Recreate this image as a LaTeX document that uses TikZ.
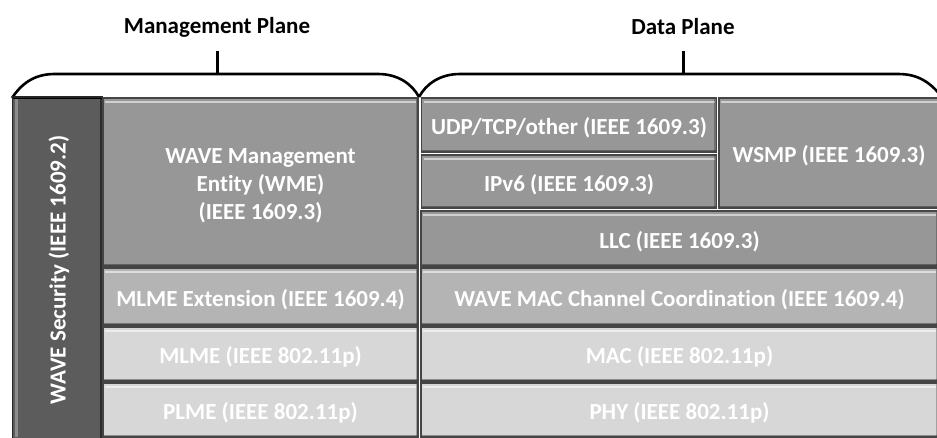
\documentclass[tikz,border=0pt]{standalone}
\usepackage{fontspec}
\usepackage{graphicx}
\setmainfont{Carlito}[RawFeature=-liga]
\definecolor{secfill}{HTML}{5C5C5C}
\definecolor{darkfill}{HTML}{979797}
\definecolor{midfill}{HTML}{B4B4B4}
\definecolor{lightfill}{HTML}{D7D7D7}
\definecolor{edgecol}{HTML}{454545}
\begin{document}
\begin{tikzpicture}[x=1pt,y=-1pt,
  boxfont/.style={font=\bfseries\fontsize{23}{28}\selectfont, text=white},
  layer/.style={boxfont, draw=edgecol, line width=1.3pt, inner sep=0pt, align=center,
    text height=21pt, text depth=2pt,
    path picture={
      \draw[white, opacity=0.55, line width=2.5pt]
        ([yshift=-4pt,xshift=2pt]path picture bounding box.north west) --
        ([yshift=-4pt,xshift=-2pt]path picture bounding box.north east);
      \draw[black, opacity=0.35, line width=2pt]
        ([yshift=1.5pt]path picture bounding box.south west) --
        ([yshift=1.5pt]path picture bounding box.south east);
      \draw[black, opacity=0.25, line width=2pt]
        ([xshift=-1.5pt]path picture bounding box.south east) --
        ([xshift=-1.5pt]path picture bounding box.north east);
    }},
  seclayer/.style={draw=black!85, line width=1.3pt, inner sep=0pt, fill=secfill,
    path picture={
      \draw[white, opacity=0.3, line width=2.5pt]
        ([xshift=4pt,yshift=2pt]path picture bounding box.south west) --
        ([xshift=4pt,yshift=-2pt]path picture bounding box.north west);
      \draw[black, opacity=0.5, line width=2.5pt]
        ([xshift=-1.5pt]path picture bounding box.south east) --
        ([xshift=-1.5pt]path picture bounding box.north east);
      \draw[black, line width=2.5pt]
        ([yshift=-1pt]path picture bounding box.north west) --
        ([yshift=-1pt]path picture bounding box.north east);
    }},
  title/.style={font=\bfseries\fontsize{23}{27}\selectfont, text=black},
  brace/.style={line width=2.6pt, black},
  tick/.style={line width=3pt, black}
]
\useasboundingbox (0,0) rectangle (937,437);
% titles
\node[title] (mp) at (217,27) {Management Plane};
\node[title] (dp) at (683,27) {Data Plane};
% braces
\draw[brace] (12,98) .. controls (24,80) and (38,74) .. (55,74) -- (378,74)
  .. controls (398,74) and (412,84) .. (419,97);
\draw[brace] (419,97) .. controls (426,84) and (440,74) .. (460,74) -- (898,74)
  .. controls (918,74) and (930,82) .. (942,97);
\coordinate (mpt) at (217,51);
\coordinate (mpb) at (217,75);
\coordinate (dpt) at (683,51);
\coordinate (dpb) at (683,75);
\draw[tick] (mpt) -- (mpb);
\draw[tick] (dpt) -- (dpb);
% security column
\node[seclayer, minimum width=90pt, minimum height=342pt] (sec) at (57.5,268) {};
\node[boxfont, inner sep=0pt] (sectxt) at (59,270)
  {\rotatebox{90}{WAVE Security (IEEE 1609.2)}};
% management plane
\node[layer, fill=darkfill, minimum width=315pt, minimum height=168pt] (wme) at (260.5,182) {};
\node[boxfont, align=center] (wmetxt) at ([yshift=-4pt]wme.center)
  {WAVE Management\\Entity (WME)\\(IEEE 1609.3)};
\node[layer, fill=midfill, minimum width=315pt, minimum height=57pt] (mlmeext) at (260.5,296.5)
  {MLME Extension (IEEE 1609.4)};
\node[layer, fill=lightfill, minimum width=315pt, minimum height=54pt] (mlme) at (260.5,354)
  {MLME (IEEE 802.11p)};
\node[layer, fill=lightfill, minimum width=315pt, minimum height=54pt] (plme) at (260.5,410)
  {PLME (IEEE 802.11p)};
% data plane
\node[layer, fill=darkfill, minimum width=295pt, minimum height=54pt] (udp) at (569,125)
  {UDP/TCP/other (IEEE 1609.3)};
\node[layer, fill=darkfill, minimum width=295pt, minimum height=53pt] (ipv6) at (569,181.5)
  {IPv6 (IEEE 1609.3)};
\node[layer, fill=darkfill, minimum width=220pt, minimum height=110pt] (wsmp) at (829,153)
  {WSMP (IEEE 1609.3)};
\node[layer, fill=darkfill, minimum width=517pt, minimum height=55pt] (llc) at (679.5,238.5)
  {LLC (IEEE 1609.3)};
\node[layer, fill=midfill, minimum width=517pt, minimum height=57pt] (mac4) at (679.5,296.5)
  {WAVE MAC Channel Coordination (IEEE 1609.4)};
\node[layer, fill=lightfill, minimum width=517pt, minimum height=54pt] (mac) at (679.5,354)
  {MAC (IEEE 802.11p)};
\node[layer, fill=lightfill, minimum width=517pt, minimum height=54pt] (phy) at (679.5,410)
  {PHY (IEEE 802.11p)};
\end{tikzpicture}
\end{document}
